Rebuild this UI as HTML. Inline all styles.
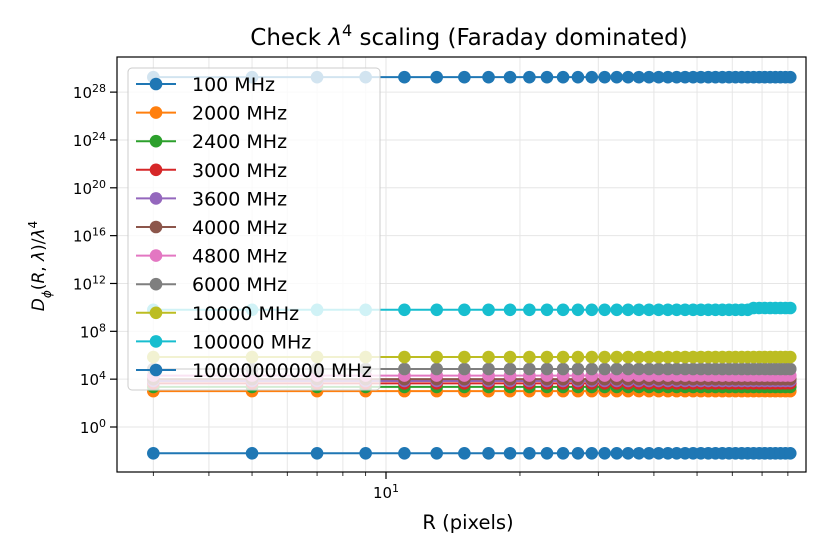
<!DOCTYPE html>
<html><head><meta charset="utf-8"><style>
body{margin:0;background:#fff;}
svg{display:block;font-family:"DejaVu Sans","Liberation Sans",sans-serif;}
</style></head><body>
<svg id="chart" width="840" height="560" viewBox="0 0 840 560">
<rect x="0" y="0" width="840" height="560" fill="#fff"/>
<g id="grid"></g>
<g id="series"></g>
<rect x="117" y="57" width="689" height="415" fill="none" stroke="#000" stroke-width="1.2"/>
<g id="axes"></g>
<text x="469" y="45" text-anchor="middle" font-size="23">Check <tspan font-style="italic">λ</tspan><tspan baseline-shift="super" font-size="16">4</tspan> scaling (Faraday dominated)</text>
<text x="468" y="529" text-anchor="middle" font-size="19.5">R (pixels)</text>
<text transform="translate(44,266) rotate(-90)" text-anchor="middle" font-size="17"><tspan font-style="italic">D</tspan><tspan font-style="italic" font-size="12" baseline-shift="sub">ϕ</tspan>(<tspan font-style="italic">R</tspan>, <tspan font-style="italic">λ</tspan>)/<tspan font-style="italic">λ</tspan><tspan font-size="12" baseline-shift="super">4</tspan></text>
<g id="legend"></g>
</svg>
<script>
const radii = [3,5,7,9,11,13,15,17,19,21,23,25,27,29,31,33,35,37,39,41,43,45,47,49,51,53,55,57,59,61,63,65,67,69,71,73,75,77,79,81];
const seriesLabels = ["100 MHz","2000 MHz","2400 MHz","3000 MHz","3600 MHz","4000 MHz","4800 MHz","6000 MHz","10000 MHz","100000 MHz","10000000000 MHz"];
const seriesColors = ["#1f77b4","#ff7f0e","#2ca02c","#d62728","#9467bd","#8c564b","#e377c2","#7f7f7f","#bcbd22","#17becf","#1f77b4"];
// log10 of D/lambda^4 level per series
const seriesLevels = [29.25, 3.0, 3.35, 3.65, 3.85, 4.0, 4.3, 4.85, 5.85, 9.8, -2.2];
const cyanTailLevel = 9.95;
const yTicks = [0,4,8,12,16,20,24,28];
const xMajorTicks = [10];
const xMinorTicks = [3,4,5,6,7,8,9,20,30,40,50,60,70,80];

const NS="http://www.w3.org/2000/svg";
function el(t,a,p){const e=document.createElementNS(NS,t);for(const k in a)e.setAttribute(k,a[k]);p.appendChild(e);return e;}
const L=117,R=806,T=57,B=472;
const xs=v=>386+445*Math.log10(v/10);
const ys=lv=>427-11.96*lv;

const grid=document.getElementById('grid'),axes=document.getElementById('axes');
xMinorTicks.concat(xMajorTicks).forEach(v=>{
  const g=el('line',{x1:xs(v),x2:xs(v),y1:T,y2:B,stroke:'#e6e6e6','stroke-width':1},grid);
  
  
  const major=xMajorTicks.includes(v);
  const t=el('line',{x1:xs(v),x2:xs(v),y1:B,y2:B+(major?7:4),stroke:'#000','stroke-width':major?1.2:0.8},axes);
  
  
});
xMajorTicks.forEach(v=>{
  const tx=el('text',{x:xs(v),y:B+26,'text-anchor':'middle','font-size':15},axes);
  
  
  tx.innerHTML='10<tspan baseline-shift="super" font-size="11">'+Math.round(Math.log10(v))+'</tspan>';
});
yTicks.forEach(v=>{
  const g=el('line',{x1:L,x2:R,y1:ys(v),y2:ys(v),stroke:'#e6e6e6','stroke-width':1},grid);
  
  
  const t=el('line',{x1:L-7,x2:L,y1:ys(v),y2:ys(v),stroke:'#000','stroke-width':1.2},axes);
  
  
  const tx=el('text',{x:L-11,y:ys(v)+6,'text-anchor':'end','font-size':15},axes);
  
  
  tx.innerHTML='10<tspan baseline-shift="super" font-size="11">'+v+'</tspan>';
});

const sg=document.getElementById('series');
seriesLabels.forEach((lab,i)=>{
  const g=el('g',{},sg);
  
  
  const vals=radii.map((r,j)=> (i===9 && j>=radii.length-8)?cyanTailLevel:seriesLevels[i]);
  const pts=radii.map((r,j)=>xs(r)+','+ys(vals[j])).join(' ');
  const pl=el('polyline',{points:pts,fill:'none',stroke:seriesColors[i],'stroke-width':2},g);
  
  
  radii.forEach((r,j)=>{
    const c=el('circle',{cx:xs(r),cy:ys(vals[j]),r:6.3,fill:seriesColors[i]},g);
    
    
  });
});

const lg=document.getElementById('legend');
const box=el('rect',{x:128,y:68,width:252,height:322,rx:4,fill:'#fff','fill-opacity':0.8,stroke:'#ccc','stroke-width':1},lg);


seriesLabels.forEach((lab,i)=>{
  const y=84+i*28.6;
  const e=el('g',{},lg);
  
  
  el('line',{x1:136,x2:176,y1:y,y2:y,stroke:seriesColors[i],'stroke-width':2},e);
  el('circle',{cx:156,cy:y,r:6.3,fill:seriesColors[i]},e);
  const t=el('text',{x:192,y:y+7,'font-size':19},e);
  t.textContent=lab;
});
</script>
</body></html>
